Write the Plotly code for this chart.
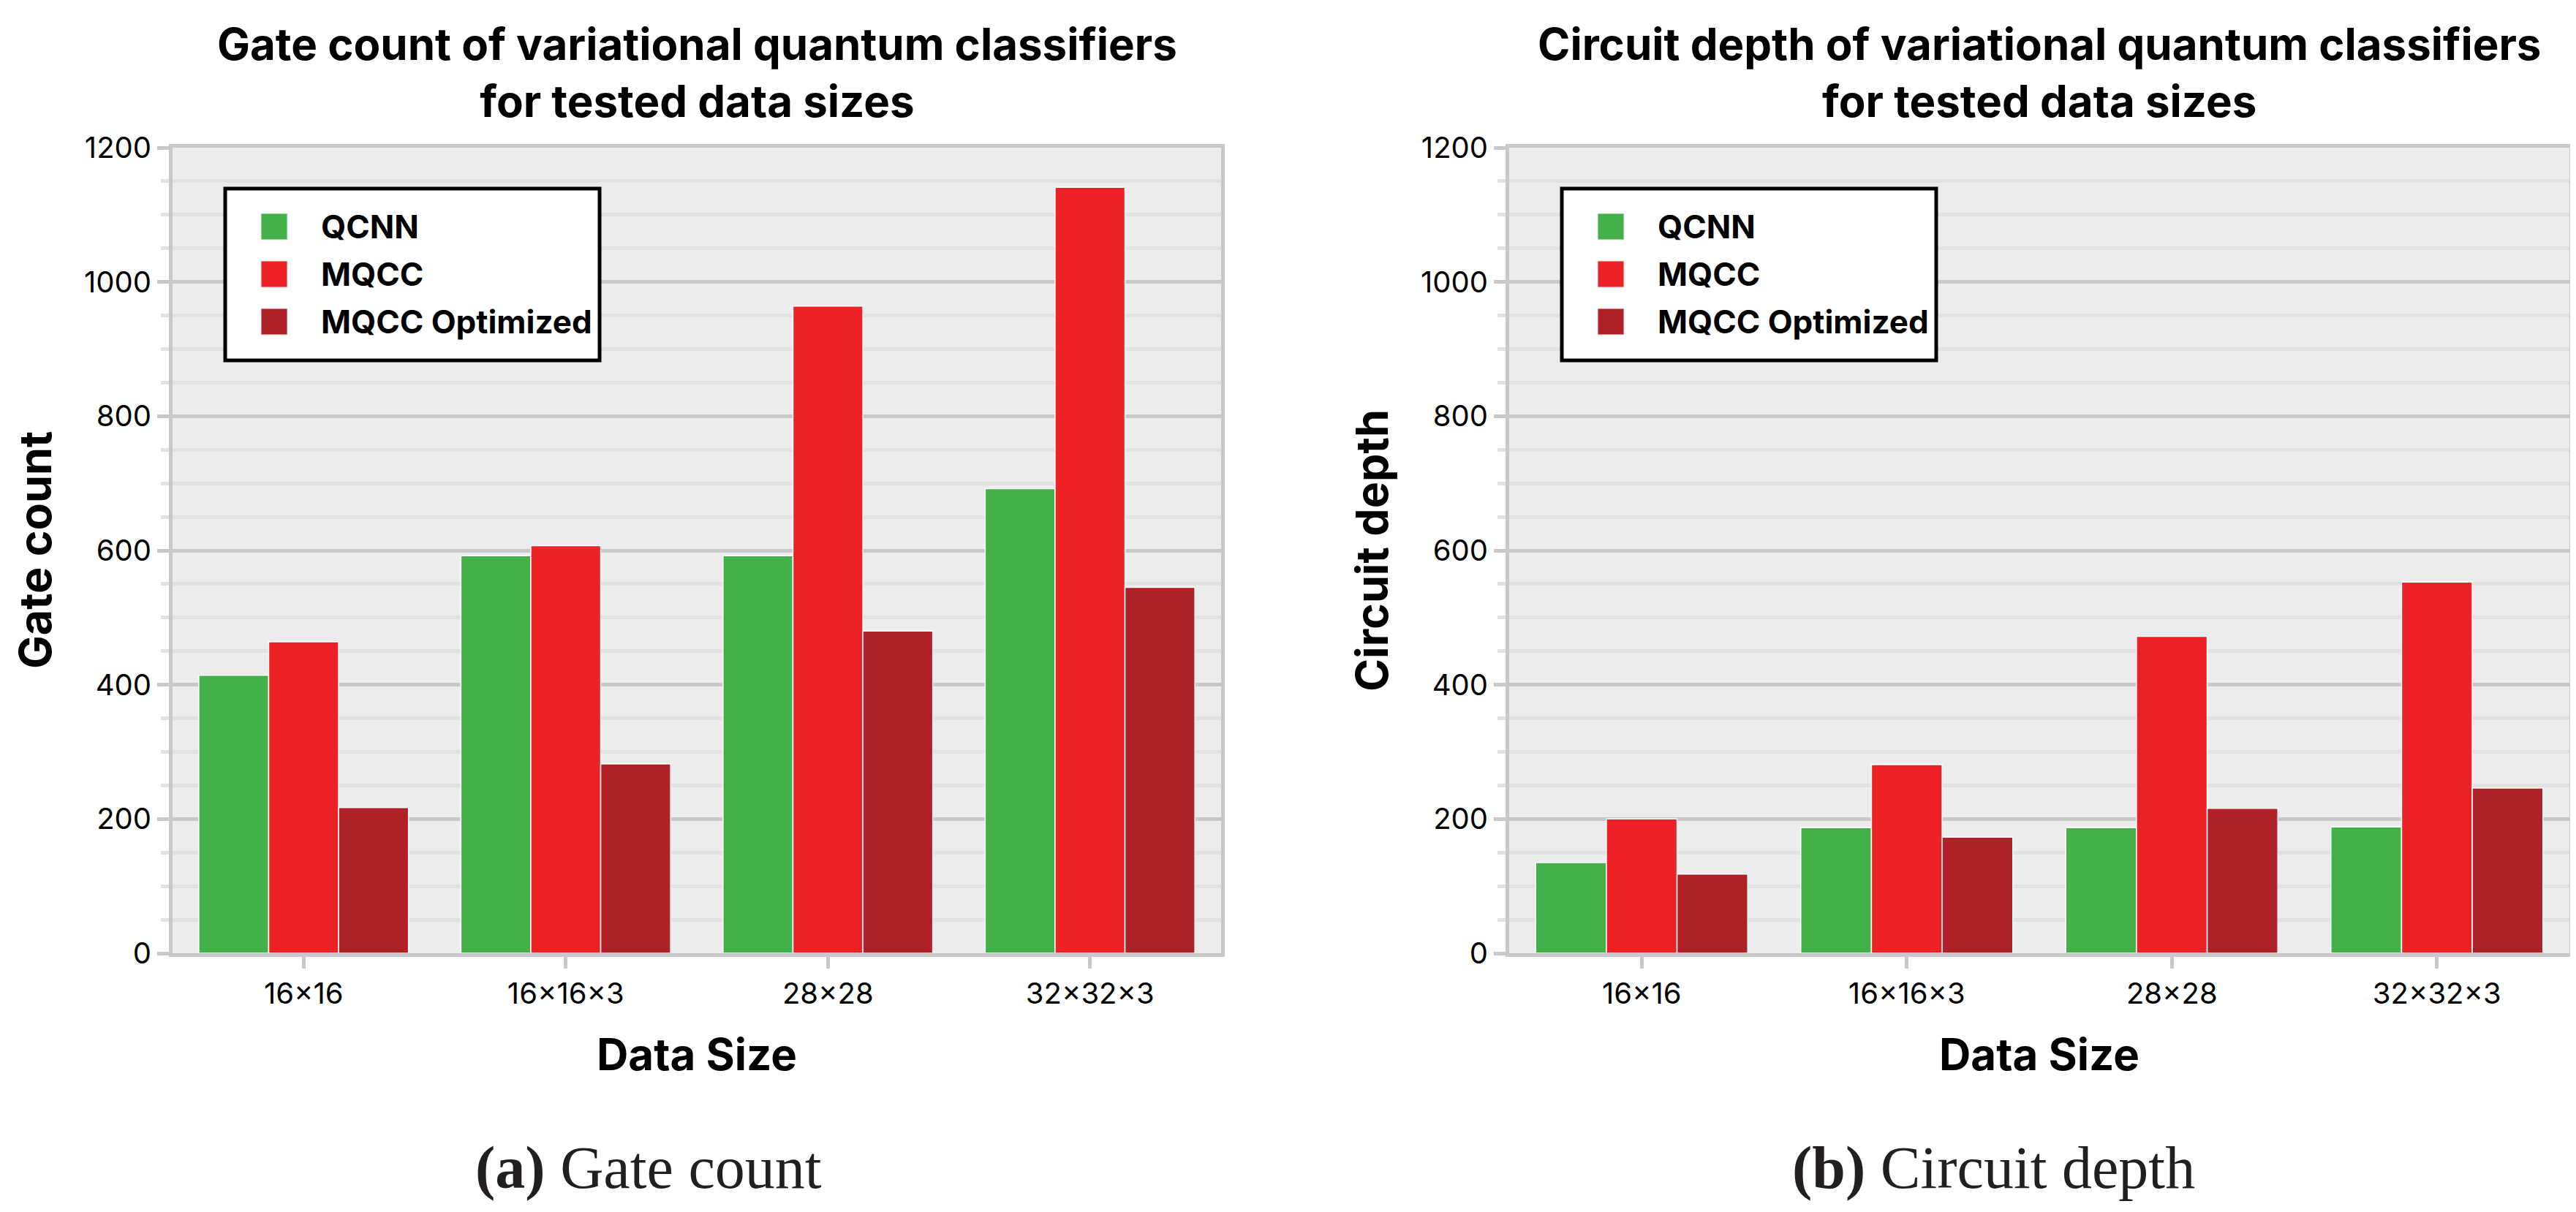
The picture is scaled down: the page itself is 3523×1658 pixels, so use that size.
import plotly.graph_objects as go

# data
data_sizes = ["16×16", "16×16×3", "28×28", "32×32×3"]
series_names = ["QCNN", "MQCC", "MQCC Optimized"]
series_colors = ["#43B049", "#ED2227", "#AF2127"]

gate_qcnn = [414, 592, 592, 692]
gate_mqcc = [464, 607, 964, 1141]
gate_mqcc_opt = [217, 282, 480, 545]

depth_qcnn = [135, 187, 187, 188]
depth_mqcc = [200, 281, 472, 553]
depth_mqcc_opt = [118, 173, 216, 246]

titles = ["Gate count of variational quantum classifiers<br>for tested data sizes",
          "Circuit depth of variational quantum classifiers<br>for tested data sizes"]
y_titles = ["Gate count", "Circuit depth"]
x_title = "Data Size"
captions = ["<b>(a)</b> Gate count", "<b>(b)</b> Circuit depth"]

W, H = 3523, 1658
PAGE_OFFSET = 8  # default body margin of the html page


def px(x):
    return (x - PAGE_OFFSET) / W


def py(y):
    return 1 - (y - PAGE_OFFSET) / H


# pixel layout of the two panels (screen coordinates)
panels = [(236, 1670), (2064, 3514)]
top, bottom = 202, 1304
caption_x = [887, 2726]

fig = go.Figure()

gate = [gate_qcnn, gate_mqcc, gate_mqcc_opt]
depth = [depth_qcnn, depth_mqcc, depth_mqcc_opt]
for k, values in enumerate([gate, depth]):
    for name, col, vals in zip(series_names, series_colors, values):
        fig.add_trace(go.Bar(
            x=data_sizes, y=vals, name=name,
            marker=dict(color=col, line=dict(color="white", width=1.5)),
            xaxis="x" if k == 0 else "x2", yaxis="y" if k == 0 else "y2",
            showlegend=False,
        ))

axis_common = dict(showline=True, linecolor="#C8C8C8", linewidth=5, mirror=True,
                   ticks="outside", tickcolor="#C8C8C8", tickwidth=5, automargin=False,
                   tickfont=dict(family="Inter", size=40, color="black"))
xax = dict(axis_common, ticklen=16, showgrid=False, zeroline=False)
yax = dict(axis_common, ticklen=16, range=[0, 1200], dtick=200, zeroline=False,
           showgrid=True, gridcolor="#C8C8C8", gridwidth=5,
           minor=dict(dtick=50, showgrid=True, gridcolor="#E0E1E0", gridwidth=5,
                      ticks="outside", ticklen=11, tickwidth=5, tickcolor="#E0E1E0"))

fig.update_layout(
    width=W, height=H,
    margin=dict(l=0, r=0, t=0, b=0, autoexpand=False),
    paper_bgcolor="white", plot_bgcolor="#EBECEB",
    barmode="group", bargap=0.2, bargroupgap=0,
    showlegend=False,
    xaxis=dict(xax, domain=[px(panels[0][0]), px(panels[0][1])], anchor="y"),
    yaxis=dict(yax, domain=[py(bottom), py(top)], anchor="x"),
    xaxis2=dict(xax, domain=[px(panels[1][0]), px(panels[1][1])], anchor="y2"),
    yaxis2=dict(yax, domain=[py(bottom), py(top)], anchor="x2"),
)

shapes = []
annotations = []
for k, (x0, x1) in enumerate(panels):
    cx = (x0 + x1) / 2
    # titles
    annotations.append(dict(text=titles[k], x=px(cx), y=py(22), xref="paper", yref="paper",
                            xanchor="center", yanchor="top", showarrow=False,
                            font=dict(family="Inter", size=60, color="black", weight="bold")))
    # axis titles
    annotations.append(dict(text="<b>" + y_titles[k] + "</b>", x=px(x0 - 188), y=py((top + bottom) / 2),
                            xref="paper", yref="paper", xanchor="center", yanchor="middle",
                            textangle=-90, showarrow=False,
                            font=dict(family="Inter", size=61, color="black")))
    annotations.append(dict(text="<b>" + x_title + "</b>", x=px(cx), y=py(1404),
                            xref="paper", yref="paper", xanchor="center", yanchor="top",
                            showarrow=False, font=dict(family="Inter", size=60, color="black")))
    # caption
    annotations.append(dict(text=captions[k], x=px(caption_x[k]), y=py(1550),
                            xref="paper", yref="paper", xanchor="center", yanchor="top",
                            showarrow=False,
                            font=dict(family="Liberation Serif", size=82, color="#231F20")))
    # legend box
    lx0, ly0 = x0 + 72, 258
    shapes.append(dict(type="rect", xref="paper", yref="paper", layer="above",
                       x0=px(lx0), x1=px(lx0 + 512), y0=py(ly0), y1=py(ly0 + 235),
                       line=dict(color="black", width=5), fillcolor="white"))
    for i, (name, col) in enumerate(zip(series_names, series_colors)):
        yc = ly0 + 52 + 65 * i
        shapes.append(dict(type="rect", xref="paper", yref="paper", layer="above",
                           x0=px(lx0 + 49), x1=px(lx0 + 85), y0=py(yc - 18), y1=py(yc + 18),
                           line=dict(color="#E8E8E8", width=1), fillcolor=col))
        annotations.append(dict(text="<b>" + name + "</b>", x=px(lx0 + 129), y=py(yc),
                                xref="paper", yref="paper", xanchor="left", yanchor="middle",
                                showarrow=False, font=dict(family="Inter", size=44, color="black")))

fig.update_layout(shapes=shapes, annotations=annotations)

fig.write_html("out.html")
